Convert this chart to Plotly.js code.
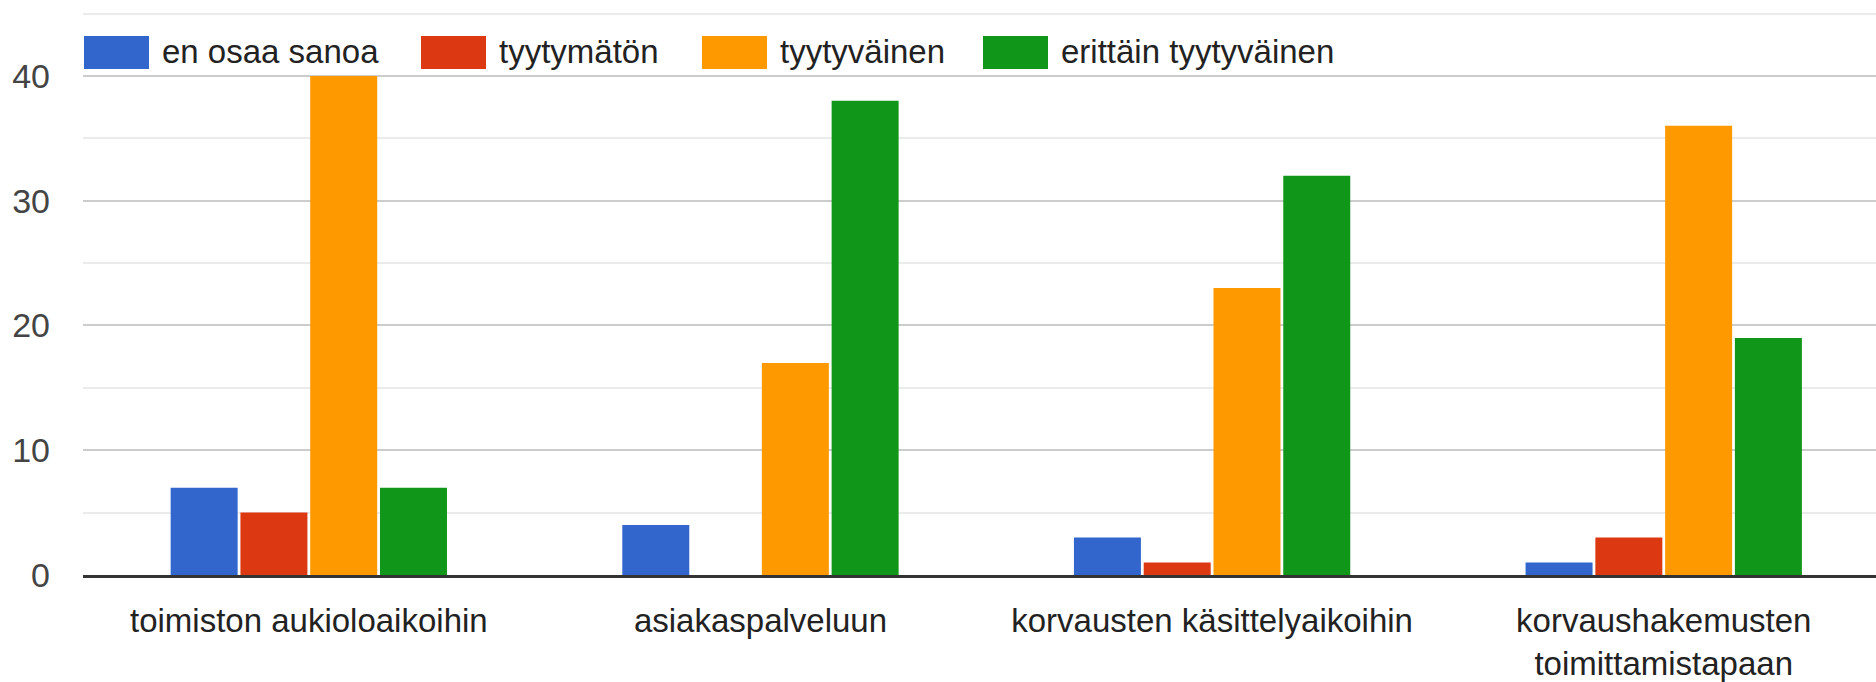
<!DOCTYPE html>
<html>
<head>
<meta charset="utf-8">
<script src="https://cdn.plot.ly/plotly-3.0.1.min.js"></script>
<style>
  html, body { margin: 0; padding: 0; background: #fff; }
  #chart { width: 1876px; height: 682px; }
</style>
</head>
<body>
<div id="chart"></div>
<script>
// survey answers, counts per answer option
var categories = ['toimiston aukioloaikoihin', 'asiakaspalveluun', 'korvausten käsittelyaikoihin', 'korvaushakemusten<br>toimittamistapaan'];
var seriesNames = ['en osaa sanoa', 'tyytymätön', 'tyytyväinen', 'erittäin tyytyväinen'];
var enOsaaSanoa = [7, 4, 3, 1];
var tyytymaton = [5, 0, 1, 3];
var tyytyvainen = [40, 17, 23, 36];
var erittainTyytyvainen = [7, 38, 32, 19];
var yTicks = [0, 10, 20, 30, 40];

var values = [enOsaaSanoa, tyytymaton, tyytyvainen, erittainTyytyvainen];
var colors = ['#3366cc', '#dc3912', '#ff9900', '#109618'];

var W = 1876, H = 682;
var mLeft = 83, mTop = 11, mBottom = 107;
var plotW = W - mLeft, plotH = H - mTop - mBottom;
var fontFam = 'Liberation Sans, Arial, sans-serif';

// pixel -> paper coords (for the hand made legend)
function px(x) { return (x - mLeft) / plotW; }
function py(y) { return (mTop + plotH - y) / plotH; }

var data = [];
for (var i = 0; i < seriesNames.length; i++) {
    data.push({
        type: 'bar',
        name: seriesNames[i],
        x: categories,
        y: values[i],
        marker: {color: colors[i]}
    });
}

// legend like google charts: big swatches, one row at top
var legendLeft = [84, 421, 702, 983];
var shapes = [];
var annotations = [];
for (i = 0; i < seriesNames.length; i++) {
    shapes.push({
        type: 'rect', xref: 'paper', yref: 'paper',
        x0: px(legendLeft[i]), x1: px(legendLeft[i] + 65),
        y0: py(69), y1: py(36),
        fillcolor: colors[i], line: {width: 0}
    });
    annotations.push({
        xref: 'paper', yref: 'paper',
        x: px(legendLeft[i] + 76), y: py(52),
        xanchor: 'left', yanchor: 'middle',
        text: seriesNames[i], showarrow: false,
        font: {family: fontFam, size: 33, color: '#222'}
    });
}

var layout = {
    width: W,
    height: H,
    margin: {l: mLeft, r: 0, t: mTop, b: mBottom, pad: 0},
    paper_bgcolor: '#fff',
    plot_bgcolor: '#fff',
    font: {family: fontFam, size: 33, color: '#222'},
    barmode: 'group',
    bargap: 0.382,
    bargroupgap: 0.04,
    showlegend: false,
    xaxis: {
        type: 'category',
        range: [-0.5, 3.47],
        showgrid: false,
        zeroline: false,
        showline: true,
        linecolor: '#333',
        linewidth: 3,
        ticks: '',
        ticklabelstandoff: 14,
        tickfont: {family: fontFam, size: 33, color: '#222'}
    },
    yaxis: {
        range: [0, 45.2],   // a bit over 45 so the top minor line shows
        tickvals: yTicks,
        showgrid: true,
        gridcolor: '#cccccc',
        gridwidth: 2,
        zeroline: false,
        showline: false,
        ticks: '',
        ticklabelstandoff: 32,
        tickfont: {family: fontFam, size: 34, color: '#444'},
        minor: {dtick: 5, tick0: 0, showgrid: true, gridcolor: '#ebebeb', gridwidth: 2}
    },
    shapes: shapes,
    annotations: annotations
};

Plotly.newPlot('chart', data, layout, {displayModeBar: false, staticPlot: true});
</script>
</body>
</html>
